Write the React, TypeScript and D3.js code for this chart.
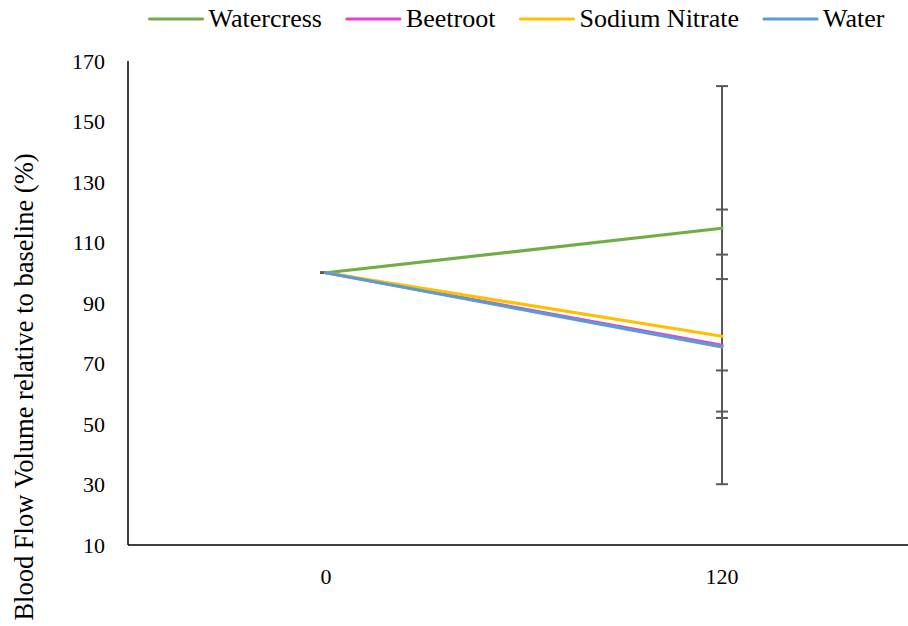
import React, { useEffect, useRef } from "react";
import * as d3 from "d3";

const categories = ["0", "120"];
const seriesNames = ["Watercress", "Beetroot", "Sodium Nitrate", "Water"];
const watercress = [100, 114.7];
const beetroot = [100, 76.0];
const sodiumNitrate = [100, 79.0];
const water = [100, 75.5];
const watercressErr = [0, 47];
const beetrootErr = [0, 21.9];
const sodiumNitrateErr = [0, 27];
const waterErr = [0, 45.4];
const yTicks = [10, 30, 50, 70, 90, 110, 130, 150, 170];
const colors = ["#70AD47", "#F03CD0", "#FFC000", "#5B9BD5"];
const yTitle = "Blood Flow Volume relative to baseline (%)";

export default function App() {
  const ref = useRef<SVGSVGElement>(null);
  useEffect(() => {
    const svg = d3.select(ref.current);
    svg.selectAll("*").remove();
    const W = 908;
    const left = 128, right = 920, top = 61, bottom = 545;
    const x = d3.scaleBand().domain(categories).range([left, right]);
    const y = d3.scaleLinear().domain([10, 170]).range([bottom, top]);
    const xc = (c: string) => (x(c) as number) + x.bandwidth() / 2;
    const font = "Liberation Serif, Tinos, DejaVu Serif, Times New Roman, Times, serif";

    const data = [
      { name: seriesNames[0], vals: watercress, err: watercressErr, color: colors[0] },
      { name: seriesNames[1], vals: beetroot, err: beetrootErr, color: colors[1] },
      { name: seriesNames[2], vals: sodiumNitrate, err: sodiumNitrateErr, color: colors[2] },
      { name: seriesNames[3], vals: water, err: waterErr, color: colors[3] },
    ];

    const eb = svg.append("g").attr("stroke", "#595959").attr("stroke-width", 2);
    data.forEach((s) => {
      s.vals.forEach((v, i) => {
        const cx = xc(categories[i]);
        const hi = y(v + s.err[i]);
        const lo = y(v - s.err[i]);
        eb.append("line").attr("x1", cx).attr("x2", cx).attr("y1", hi).attr("y2", lo);
        eb.append("line").attr("x1", cx - 6).attr("x2", cx + 6).attr("y1", hi).attr("y2", hi);
        eb.append("line").attr("x1", cx - 6).attr("x2", cx + 6).attr("y1", lo).attr("y2", lo);
      });
    });

    const line = d3
      .line<number>()
      .x((_, i) => xc(categories[i]))
      .y((d) => y(d));
    data.forEach((s) => {
      svg
        .append("path")
        .attr("d", line(s.vals) as string)
        .attr("fill", "none")
        .attr("stroke", s.color)
        .attr("stroke-width", 3.2)
        .attr("stroke-linecap", "round");
    });

    svg
      .append("line")
      .attr("x1", left).attr("x2", left)
      .attr("y1", top).attr("y2", bottom)
      .attr("stroke", "#000").attr("stroke-width", 1.5);
    svg
      .append("line")
      .attr("x1", left).attr("x2", W)
      .attr("y1", bottom).attr("y2", bottom)
      .attr("stroke", "#000").attr("stroke-width", 1.5);

    svg
      .append("g")
      .selectAll("text")
      .data(yTicks)
      .join("text")
      .attr("x", 105)
      .attr("y", (d) => y(d))
      .attr("dy", "0.35em")
      .attr("text-anchor", "end")
      .style("font-family", font)
      .attr("font-size", 22)
      .text((d) => d);

    svg
      .append("g")
      .selectAll("text")
      .data(categories)
      .join("text")
      .attr("x", (d) => xc(d))
      .attr("y", 584)
      .attr("text-anchor", "middle")
      .style("font-family", font)
      .attr("font-size", 22)
      .text((d) => d);

    svg
      .append("text")
      .attr("transform", `translate(33,387) rotate(-90)`)
      .attr("text-anchor", "middle")
      .style("font-family", font)
      .attr("font-size", 26.5)
      .text(yTitle);

    const lg = svg.append("g");
    const lineLen = 53, gapText = 6, gapItem = 25;
    const items = data.map((s) => {
      const g = lg.append("g");
      g.append("line")
        .attr("x1", 0).attr("x2", lineLen)
        .attr("y1", 19).attr("y2", 19)
        .attr("stroke", s.color).attr("stroke-width", 3.2)
        .attr("stroke-linecap", "round");
      const t = g
        .append("text")
        .attr("x", lineLen + gapText)
        .attr("y", 27)
        .style("font-family", font)
        .attr("font-size", 26)
        .text(s.name);
      const w = (t.node() as SVGTextElement).getComputedTextLength();
      return { g, w: lineLen + gapText + w };
    });
    const total = d3.sum(items, (d) => d.w) + gapItem * (items.length - 1);
    let cx = 517 - total / 2;
    items.forEach((it) => {
      it.g.attr("transform", `translate(${cx},0)`);
      cx += it.w + gapItem;
    });
  }, []);
  return (
    <svg
      ref={ref}
      width={908}
      height={626}
      style={{ position: "absolute", left: 0, top: 0, background: "#fff" }}
    />
  );
}
